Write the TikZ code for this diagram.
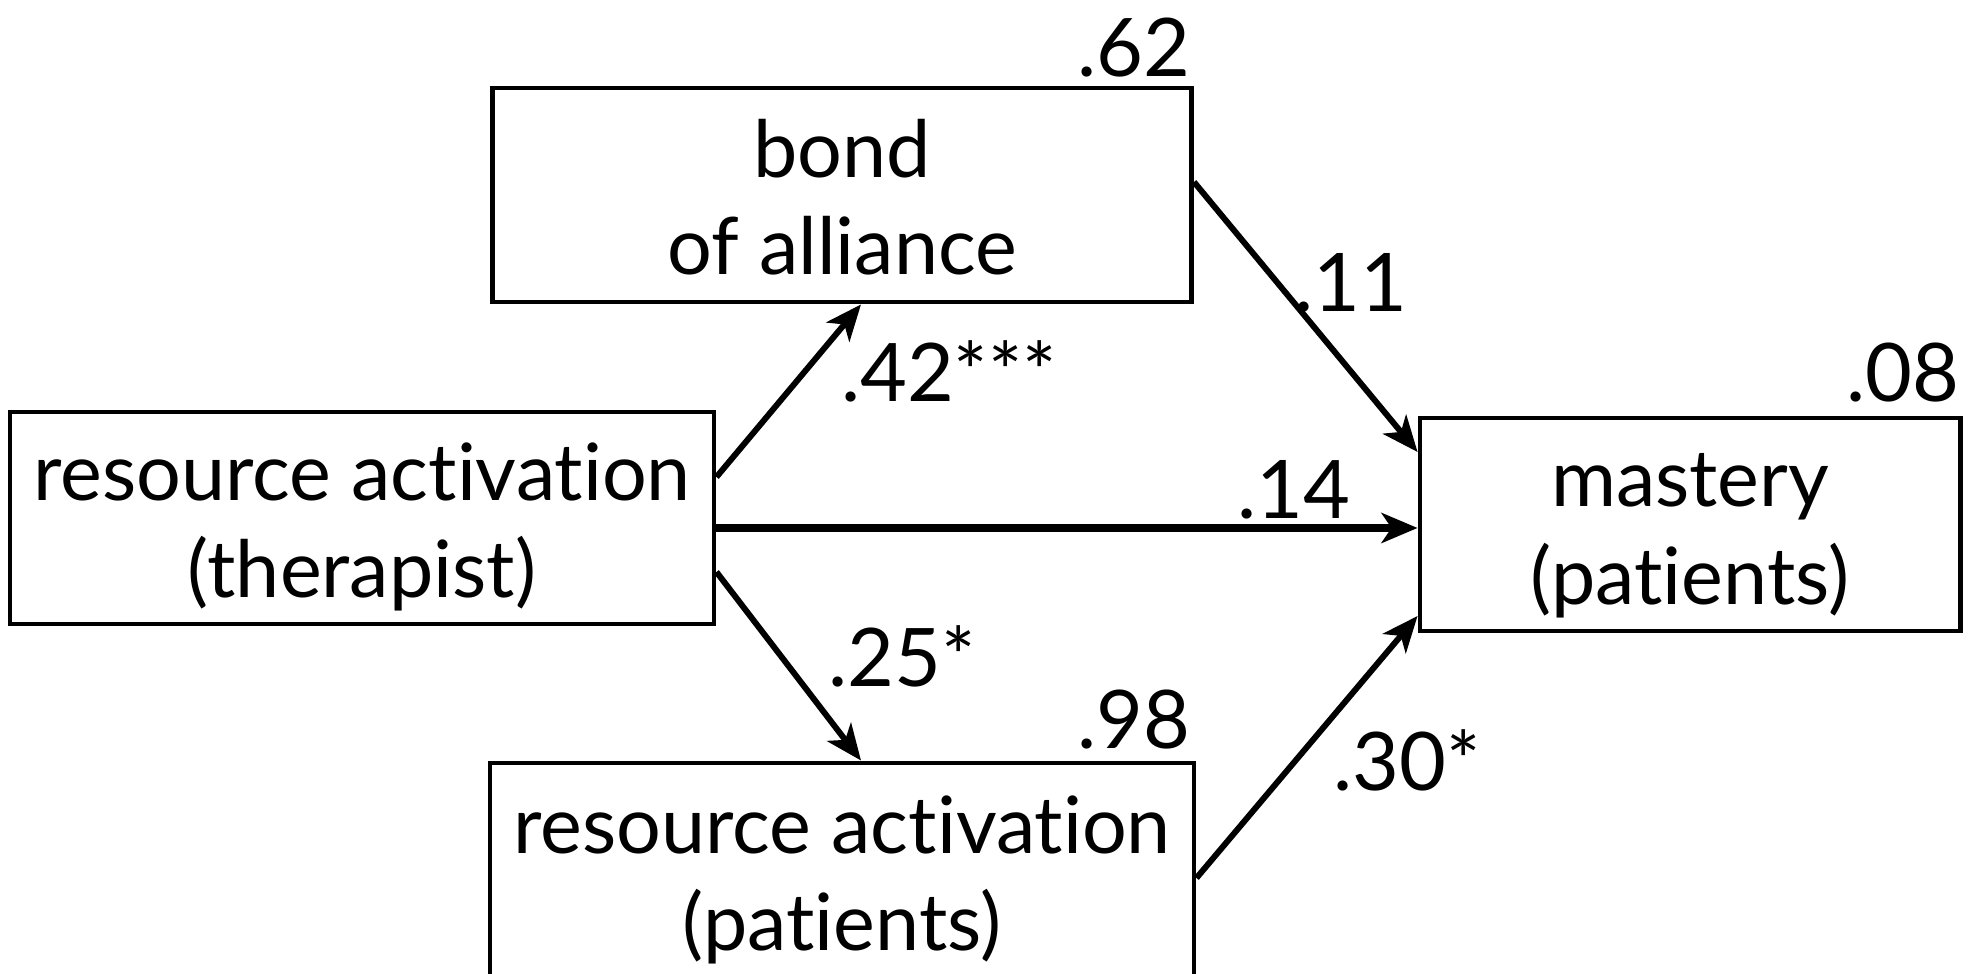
\documentclass[tikz,border=0pt]{standalone}
\usepackage{fontspec}
\setmainfont{Lato}[Ligatures=NoCommon]
\usetikzlibrary{arrows.meta}
\tikzset{
  box/.style={draw,line width=1.4pt,align=center,inner sep=0pt,text height=45.5pt,text depth=0pt,font=\fontsize{22.5}{27.8}\selectfont},
  coef/.style={inner sep=0pt,font=\fontsize{23}{27}\selectfont},
  arr/.style={-{Stealth[length=3.6mm,width=3mm,inset=1mm]},line width=1.7pt}
}
\begin{document}
\begin{tikzpicture}
\useasboundingbox(0,0)rectangle(19.7,9.74);
\clip(0,0)rectangle(19.7,9.74);
% variables
\node[box,minimum width=6.99cm,minimum height=2.14cm](bond)at(8.42,7.79){bond\\of alliance};
\node[box,minimum width=7.04cm,minimum height=2.12cm](ther)at(3.62,4.56){resource activation\\(therapist)};
\node[box,minimum width=5.40cm,minimum height=2.13cm](mast)at(16.90,4.495){mastery\\(patients)};
\node[box,minimum width=7.04cm,minimum height=2.16cm](pat)at(8.42,1.03){resource activation\\(patients)};
% explained variance
\node[coef](r2bond)at(11.34,9.26){.62};
\node[coef](r2mast)at(19.03,6.01){.08};
\node[coef](r2pat)at(11.34,2.54){.98};
% paths
\draw[arr]([yshift=4.1mm]ther.east)--([xshift=1.9mm]bond.south);
\draw[arr,line width=2.2pt]([yshift=-1mm]ther.east)--([yshift=-1mm]ther.east-|mast.west);
\draw[arr]([yshift=-5.4mm]ther.east)--([xshift=1.9mm]pat.north);
\draw[arr]([yshift=1.3mm]bond.east)--([yshift=7.25mm]mast.west);
\draw[arr]([yshift=-0.7mm]pat.east)--([yshift=-9.15mm]mast.west);
% coefficients
\node[coef](c1)at(9.49,6.03){.42***};
\node[coef](c2)at(13.51,6.91){.11};
\node[coef](c3)at(12.94,4.84){.14};
\node[coef](c4)at(9.02,3.18){.25*};
\node[coef](c5)at(14.07,2.14){.30*};
\end{tikzpicture}
\end{document}
